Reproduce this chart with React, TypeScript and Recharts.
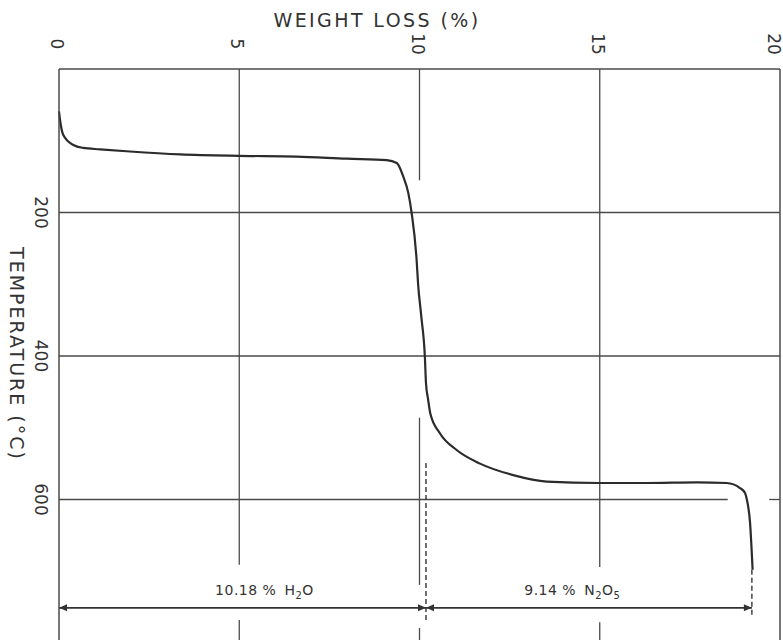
import { Label, Line, LineChart, ReferenceDot, ReferenceLine, XAxis, YAxis } from 'recharts'

// thermogram: weight loss (%) against temperature (°C)
const weightLoss = [
  0, 0.05, 0.12, 0.4, 0.67, 1.14, 1.97, 3.36, 4.99, 6.59, 7.98, 9.09, 9.37, 9.55, 9.69, 9.78, 9.92,
  9.96, 10.05, 10.15, 10.18, 10.24, 10.3, 10.57, 11.03, 11.68, 12.6, 13.53, 14.98, 16.3, 17.69,
  18.52, 18.89, 19.03, 19.08, 19.17, 19.24,
]
const temperature = [
  59, 78, 92, 106, 110, 112, 115, 119, 121, 122, 125, 127, 131, 150, 173, 200, 266, 299, 345, 402,
  438, 461, 480, 508, 531, 550, 566, 575, 577, 577, 576, 577, 584, 591, 600, 633, 698,
]

const lossTicks = [0, 5, 10, 15, 20]
const tempTicks = [200, 400, 600]

// step boundaries (%) and the temperature the dimension arrows sit at
const waterLoss = 10.18
const totalLoss = 19.22
const arrowTemp = 751
const stepLabels = [
  { loss: 5.7, temp: 733, text: '10.18 %', formula: ['H', '2', 'O', ''] },
  { loss: 14.24, temp: 733, text: '9.14 %', formula: ['N', '2', 'O', '5'] },
]

// grid is broken where the curve, labels and arrows cross it
const gridSegments = [
  [5, 0, 5, 691],
  [5, 768, 5, 800],
  [10, 0, 10, 155],
  [10, 486, 10, 719],
  [10, 779, 10, 800],
  [15, 0, 15, 694],
  [15, 771, 15, 800],
  [0, 200, 20, 200],
  [0, 400, 20, 400],
  [0, 600, 18.55, 600],
  [19.7, 600, 20, 600],
]

const data = weightLoss.map((loss, i) => ({ loss, temp: temperature[i] }))

const INK = '#333'
const GRID = '#4a4a4a'
const FONT = '"DejaVu Sans", sans-serif'

function TopTick({ x, y, payload }: any) {
  // the last label sits at the page edge, nudge it in a little
  const cx = payload.value === 20 ? x - 6 : x - 2
  const cy = y - 25
  return (
    <text
      x={cx}
      y={cy}
      transform={`rotate(90 ${cx} ${cy})`}
      textAnchor="middle"
      dominantBaseline="central"
      fontSize={17}
      fontFamily={FONT}
      fill={INK}
    >
      {payload.value}
    </text>
  )
}

function LeftTick({ x, y, payload }: any) {
  const cx = x - 18
  return (
    <text
      x={cx}
      y={y}
      transform={`rotate(90 ${cx} ${y})`}
      textAnchor="middle"
      dominantBaseline="central"
      fontSize={17}
      fontFamily={FONT}
      fill={INK}
    >
      {payload.value}
    </text>
  )
}

function TitleLabel({ viewBox }: any) {
  return (
    <text
      x={viewBox.x + 318}
      y={20}
      textAnchor="middle"
      dominantBaseline="central"
      fontSize={19}
      letterSpacing={2.4}
      fontFamily={FONT}
      fill={INK}
    >
      WEIGHT LOSS (%)
    </text>
  )
}

function TempLabel({ viewBox }: any) {
  const cx = viewBox.x + 17
  const cy = viewBox.y + viewBox.height / 2 - 2
  return (
    <text
      x={cx}
      y={cy}
      transform={`rotate(90 ${cx} ${cy})`}
      textAnchor="middle"
      dominantBaseline="central"
      fontSize={19}
      letterSpacing={2}
      fontFamily={FONT}
      fill={INK}
    >
      TEMPERATURE  (°C)
    </text>
  )
}

function ArrowShape(props: any) {
  const { x1, y1, x2, y2 } = props
  const h = 8
  const w = 3.5
  return (
    <g>
      <line x1={x1} y1={y1} x2={x2} y2={y2} stroke={INK} strokeWidth={1.6} />
      <polygon points={`${x1},${y1} ${x1 + h},${y1 - w} ${x1 + h},${y1 + w}`} fill={INK} />
      <polygon points={`${x2},${y2} ${x2 - h},${y2 - w} ${x2 - h},${y2 + w}`} fill={INK} />
    </g>
  )
}

function stepText(label: (typeof stepLabels)[number]) {
  return function StepText({ cx, cy }: any) {
    const [a, sub1, b, sub2] = label.formula
    return (
      <text x={cx} y={cy} textAnchor="middle" fontSize={14} letterSpacing={0.5} fontFamily={FONT} fill={INK}>
        {label.text}
        <tspan dx={8}>{a}</tspan>
        <tspan dy={4} fontSize={10}>
          {sub1}
        </tspan>
        <tspan dy={-4}>{b}</tspan>
        {sub2 && (
          <tspan dy={4} fontSize={10}>
            {sub2}
          </tspan>
        )}
      </text>
    )
  }
}

export default function App() {
  return (
    <div
      style={{
        position: 'absolute',
        left: 0,
        top: 0,
        width: 783,
        height: 640,
        overflow: 'hidden',
        background: '#fff',
      }}
    >
      <LineChart width={783} height={650} data={data} margin={{ top: 0, right: 3, bottom: 7, left: 0 }}>
        <XAxis
          type="number"
          dataKey="loss"
          domain={[0, 20]}
          ticks={lossTicks}
          orientation="top"
          height={69}
          tickSize={0}
          tickMargin={0}
          tick={<TopTick />}
          axisLine={{ stroke: GRID, strokeWidth: 1.5 }}
          tickLine={false}
          interval={0}
        >
          <Label content={<TitleLabel />} />
        </XAxis>
        <YAxis
          type="number"
          domain={[0, 800]}
          reversed
          ticks={tempTicks}
          width={59}
          tickSize={0}
          tickMargin={0}
          tick={<LeftTick />}
          axisLine={{ stroke: GRID, strokeWidth: 1.5 }}
          tickLine={false}
          interval={0}
        >
          <Label content={<TempLabel />} />
        </YAxis>

        <ReferenceLine x={20} stroke={GRID} strokeWidth={1.5} />
        {gridSegments.map(([xa, ya, xb, yb], i) => (
          <ReferenceLine
            key={`g${i}`}
            segment={[
              { x: xa, y: ya },
              { x: xb, y: yb },
            ]}
            stroke={GRID}
            strokeWidth={1.3}
          />
        ))}

        <ReferenceLine
          segment={[
            { x: waterLoss, y: 549 },
            { x: waterLoss, y: 771 },
          ]}
          stroke={INK}
          strokeWidth={1.4}
          strokeDasharray="5 3"
        />
        <ReferenceLine
          segment={[
            { x: totalLoss, y: 698 },
            { x: totalLoss, y: 764 },
          ]}
          stroke={INK}
          strokeWidth={1.4}
          strokeDasharray="5 3"
        />
        <ReferenceLine
          segment={[
            { x: 0, y: arrowTemp },
            { x: waterLoss, y: arrowTemp },
          ]}
          shape={ArrowShape}
        />
        <ReferenceLine
          segment={[
            { x: waterLoss, y: arrowTemp },
            { x: totalLoss, y: arrowTemp },
          ]}
          shape={ArrowShape}
        />
        {stepLabels.map((label) => (
          <ReferenceDot key={label.text} x={label.loss} y={label.temp} r={0} shape={stepText(label)} />
        ))}

        <Line
          type="monotone"
          dataKey="temp"
          stroke="#2b2b2b"
          strokeWidth={2.2}
          dot={false}
          activeDot={false}
          isAnimationActive={false}
        />
      </LineChart>
    </div>
  )
}
